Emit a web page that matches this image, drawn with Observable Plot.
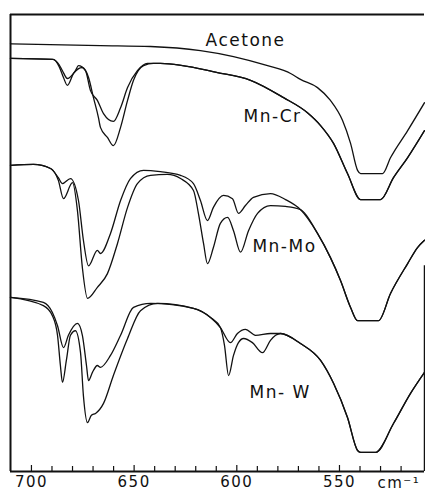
<!DOCTYPE html>
<html><head><meta charset="utf-8">
<script src="https://cdn.jsdelivr.net/npm/d3@7"></script>
<script src="https://cdn.jsdelivr.net/npm/@observablehq/plot@0.6"></script>
<style>
body{margin:0;background:#fff}
svg{display:block}
svg text{letter-spacing:1.5px}
</style>
</head><body><div id="chart"></div>
<script>
// [wavenumber (cm-1), transmittance (arbitrary, offset)]
const acetone = [[710.2,93.6],[666.4,93.2],[642.0,93.0],[617.7,92.1],[601.6,90.8],[585.0,88.8],[573.8,87.1],[569.0,85.8],[560.7,84.0],[554.4,81.2],[548.5,76.8],[544.6,71.8],[541.2,65.9],[539.7,65.2],[529.0,65.2],[525.1,68.7],[516.8,74.6],[508.6,80.7]];

const mnCrA = [[710.2,90.4],[689.3,90.2],[686.5,88.6],[684.4,86.2],[682.5,84.5],[679.5,87.1],[675.2,88.4],[672.2,86.2],[669.8,81.8],[667.4,77.5],[666.4,75.3],[663.0,73.1],[660.1,71.3],[656.6,75.3],[653.2,81.2],[650.3,85.6],[645.4,88.8],[640.6,89.3]];
const mnCrB = [[710.2,90.4],[689.8,90.2],[686.5,89.0],[684.9,87.7],[682.5,86.0],[678.6,87.7],[677.1,88.8],[673.7,87.7],[671.3,83.4],[667.9,81.2],[664.9,78.3],[660.1,76.6],[656.6,79.6],[653.2,84.0],[648.4,87.7],[643.5,89.3],[640.6,89.3]];
const mnCrTail = [[637.2,89.3],[609.4,87.3],[593.3,85.6],[577.2,81.8],[565.6,78.5],[559.2,75.7],[552.9,71.8],[546.1,65.2],[539.7,59.5],[530.0,59.5],[523.7,64.3],[516.8,68.7],[508.6,74.6]];

const mnMoA = [[710.2,67.0],[699.0,67.2],[690.7,66.3],[686.9,63.7],[684.4,59.7],[680.0,63.2],[677.6,57.1],[675.2,44.6],[672.7,37.9],[667.9,40.3],[663.0,43.3],[658.1,49.9],[653.2,57.8],[648.4,63.0],[642.0,64.8],[633.8,65.0],[627.4,64.1],[621.1,61.5],[618.7,56.5],[616.2,49.9],[614.3,45.5],[611.4,49.0],[608.0,54.3],[604.5,55.6],[601.6,52.7],[598.2,48.0],[594.3,52.7],[589.9,56.5],[583.6,58.2],[576.3,58.0]];
const mnMoB = [[710.2,67.0],[699.0,67.2],[690.7,66.3],[686.9,64.3],[684.9,63.0],[681.0,64.1],[677.1,59.3],[674.7,50.6],[672.2,45.0],[667.9,48.4],[666.4,47.7],[661.5,52.1],[656.6,59.3],[651.8,64.1],[645.4,65.9],[637.2,65.6],[627.4,64.8],[621.1,63.0],[617.7,59.3],[614.3,54.9],[611.4,57.8],[606.5,60.4],[602.1,59.7],[599.2,56.5],[595.8,58.2],[591.9,60.0],[583.6,60.8],[576.3,59.5]];
const mnMoTail = [[569.0,57.3],[560.7,52.1],[554.4,46.8],[549.5,41.8],[544.6,35.9],[541.2,33.0],[531.0,33.0],[525.1,39.0],[516.8,45.5],[512.0,49.0],[508.6,50.6]];

const mnWA = [[710.2,38.1],[694.2,36.3],[689.8,34.1],[687.3,29.8],[685.9,23.2],[684.9,19.5],[683.0,24.3],[681.0,29.8],[678.6,30.8],[676.1,26.0],[674.7,16.6],[672.7,10.7],[670.8,12.3],[668.8,12.7],[664.9,14.9],[660.1,21.0],[653.2,29.1],[646.9,35.2],[638.6,36.8],[621.1,35.7],[612.8,33.7],[608.0,31.5],[606.0,27.6],[604.0,21.0],[601.6,25.4],[599.2,28.2],[596.7,29.1],[592.4,28.2],[587.5,26.0],[583.6,28.7],[581.1,29.8]];
const mnWB = [[710.2,38.1],[694.2,37.0],[689.8,34.8],[687.3,31.9],[684.4,27.1],[682.0,29.8],[677.6,32.4],[675.2,29.8],[673.2,23.2],[672.2,19.9],[670.3,21.7],[667.9,23.2],[666.4,22.8],[661.5,25.4],[656.6,29.8],[650.3,35.9],[642.0,36.8],[621.1,35.7],[612.8,33.7],[608.0,31.5],[603.1,28.2],[599.7,30.2],[595.8,31.1],[590.9,29.8],[583.6,30.2]];
const mnWTail = [[578.7,30.2],[569.0,28.0],[559.2,24.3],[552.9,19.3],[546.1,11.8],[541.2,4.6],[539.7,4.2],[532.4,4.2],[523.7,10.5],[515.4,17.1],[508.6,21.7]];

const labels = ["Acetone", "Mn-Cr", "Mn-Mo", "Mn- W"];
const labelX = [615.2, 596.7, 592.4, 593.8];
const labelY = [94.3, 77.6, 49.3, 17.2];

const majorTicks = [700, 650, 600, 550];
const minorTicks = [690, 680, 670, 660, 640, 630, 620, 610, 590, 580, 570, 560, 540, 530, 520];
const unitLabel = "cm\u207B\u00B9";

const curves = [
  ["acetone", acetone],
  ["mnCrA", mnCrA.concat(mnCrTail)],
  ["mnCrB", mnCrB.concat(mnCrTail)],
  ["mnMoA", mnMoA.concat(mnMoTail)],
  ["mnMoB", mnMoB.concat(mnMoTail)],
  ["mnWA", mnWA.concat(mnWTail)],
  ["mnWB", mnWB.concat(mnWTail)]
];
const rows = curves.flatMap(([id, pts]) => pts.map(([wn, t]) => ({id, wn, t})));
const labelRows = labels.map((text, i) => ({text, wn: labelX[i], t: labelY[i]}));

const plotH = 491, mTop = 14, mBottom = 20;
const frameH = plotH - mTop - mBottom;

const chart = Plot.plot({
  width: 425,
  height: plotH,
  marginLeft: 10,
  marginRight: 1,
  marginTop: mTop,
  marginBottom: mBottom,
  x: {domain: [710.2, 508.6], axis: null},
  y: {domain: [0, 100], axis: null},
  style: {fontFamily: "DejaVu Sans", background: "#fff", color: "#111"},
  marks: [
    Plot.ruleY([100], {stroke: "#111", strokeWidth: 2}),
    Plot.ruleY([0], {stroke: "#111", strokeWidth: 2}),
    Plot.ruleX([710.2], {stroke: "#111", strokeWidth: 2}),
    Plot.ruleX([508.6], {y1: 45, y2: 0, stroke: "#111", strokeWidth: 1.5}),
    Plot.ruleX(minorTicks, {x: d => d, insetTop: frameH - 5, stroke: "#111", strokeWidth: 1.2}),
    Plot.ruleX(majorTicks, {x: d => d, insetTop: frameH - 6, stroke: "#111", strokeWidth: 1.2}),
    Plot.line(rows, {x: "wn", y: "t", z: "id", curve: "monotone-x", stroke: "#111", strokeWidth: 1.3}),
    Plot.text(labelRows, {x: "wn", y: "t", text: "text", textAnchor: "start", lineAnchor: "middle", fontSize: 17, fill: "#111"}),
    Plot.text(majorTicks, {x: d => d, frameAnchor: "bottom", dy: 11, text: d => String(d), fontSize: 15, lineAnchor: "middle", fill: "#111"}),
    Plot.text([531.5], {x: d => d, frameAnchor: "bottom", dy: 12, text: () => unitLabel, fontSize: 15, textAnchor: "start", lineAnchor: "middle", fill: "#111"})
  ]
});
document.getElementById("chart").appendChild(chart);
</script>
</body></html>
